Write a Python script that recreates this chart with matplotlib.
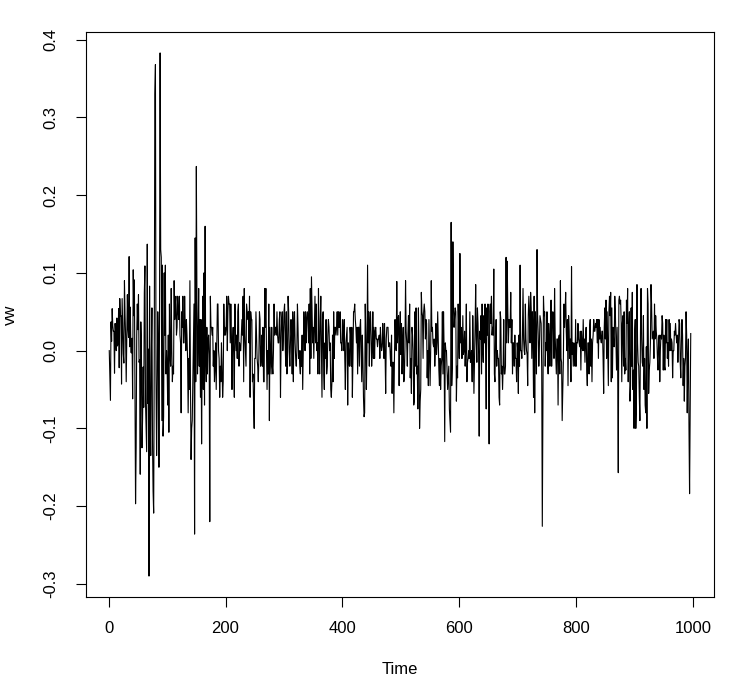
import matplotlib
matplotlib.use("Agg")
import matplotlib.pyplot as plt
import numpy as np

plt.rcParams['font.family'] = ['Liberation Sans', 'DejaVu Sans']
plt.rcParams['axes.unicode_minus'] = False

# Monthly values read (estimated) from the chart, one row per year
vw_1926_1929 = [
    0.000, -0.033, -0.064, 0.037, 0.012, 0.054, 0.032, 0.025, 0.025, -0.029, 0.035, 0.020,
    0.000, 0.042, 0.006, 0.010, 0.054, -0.022, 0.067, 0.044, 0.045, -0.043, 0.067, 0.028,
    -0.004, -0.016, 0.090, 0.045, 0.018, -0.040, 0.014, 0.072, 0.028, 0.017, 0.121, 0.005,
    0.056, -0.002, -0.003, 0.016, -0.062, 0.104, 0.045, 0.091, -0.047, -0.197, -0.125, 0.020,
]
vw_1930s = [
    0.060, 0.027, 0.072, -0.015, -0.012, -0.159, 0.037, 0.005, -0.125, -0.089, -0.021, -0.073,
    0.074, 0.109, -0.066, -0.100, -0.130, 0.137, -0.068, 0.002, -0.290, 0.083, -0.090, -0.135,
    -0.003, 0.055, -0.117, -0.181, -0.209, -0.005, 0.330, 0.368, -0.030, -0.135, -0.060, 0.050,
    0.010, -0.150, 0.040, 0.383, 0.130, 0.120, -0.090, 0.110, -0.110, -0.085, 0.100, 0.020,
    0.110, -0.030, 0.000, -0.020, -0.070, 0.020, -0.105, 0.060, -0.005, -0.020, 0.080, 0.000,
    -0.040, -0.020, -0.030, 0.090, 0.040, 0.060, 0.070, 0.020, 0.030, 0.070, 0.050, 0.040,
    0.070, 0.020, 0.010, -0.080, 0.050, 0.030, 0.070, 0.010, 0.010, 0.070, 0.030, 0.000,
    0.040, 0.020, -0.010, -0.080, -0.010, -0.050, 0.090, -0.050, -0.140, -0.100, -0.090, -0.040,
    0.010, 0.060, -0.236, 0.145, -0.040, 0.237, 0.070, -0.030, 0.010, 0.080, -0.020, 0.040,
    -0.060, 0.040, -0.120, -0.010, 0.070, -0.050, 0.100, -0.070, 0.160, -0.010, -0.040, 0.030,
]
vw_1940s = [
    -0.030, 0.010, 0.020, -0.005, -0.220, 0.070, 0.030, 0.030, 0.020, 0.030, -0.020, 0.000,
    -0.040, -0.020, 0.010, -0.050, 0.010, 0.060, 0.060, 0.000, -0.010, -0.060, -0.020, -0.040,
    0.010, -0.020, -0.060, -0.040, 0.060, 0.020, 0.030, 0.020, 0.030, 0.070, 0.000, 0.050,
    0.070, 0.060, 0.060, 0.010, 0.060, 0.020, -0.050, 0.010, 0.030, -0.010, -0.060, 0.060,
    0.020, 0.000, 0.020, -0.010, 0.050, 0.060, -0.020, 0.010, 0.000, 0.000, 0.020, 0.040,
    0.020, 0.070, -0.040, 0.080, 0.020, 0.000, -0.020, 0.060, 0.050, 0.040, 0.050, 0.010,
    0.070, -0.060, 0.050, 0.040, 0.040, -0.040, -0.030, -0.070, -0.100, -0.010, -0.010, 0.050,
    0.020, -0.010, -0.020, -0.040, -0.010, 0.050, 0.040, -0.020, -0.010, 0.020, -0.020, 0.030,
    -0.040, -0.040, 0.080, 0.030, 0.080, 0.000, -0.050, 0.000, -0.030, 0.060, -0.090, 0.030,
    0.000, -0.030, 0.030, -0.020, -0.030, 0.000, 0.060, 0.020, 0.030, 0.030, 0.020, 0.050,
]
vw_1950s = [
    0.020, 0.010, 0.010, 0.040, 0.050, -0.060, 0.010, 0.040, 0.050, 0.000, 0.020, 0.050,
    0.060, 0.010, -0.020, 0.050, -0.030, -0.020, 0.070, 0.050, 0.000, -0.020, 0.010, 0.040,
    0.020, -0.030, 0.050, -0.040, 0.030, 0.050, 0.010, -0.010, -0.020, 0.000, 0.060, 0.030,
    -0.010, 0.000, -0.020, -0.030, 0.000, -0.020, 0.020, -0.050, 0.000, 0.050, 0.030, 0.000,
    0.050, 0.010, 0.040, 0.050, 0.040, 0.010, 0.060, -0.030, 0.080, -0.010, 0.095, 0.050,
    0.010, 0.030, -0.010, 0.030, 0.070, 0.010, 0.060, 0.000, 0.010, -0.030, 0.080, 0.010,
    -0.030, 0.040, 0.070, 0.000, -0.060, 0.040, 0.050, -0.030, -0.050, 0.010, -0.010, 0.040,
    -0.030, -0.020, 0.020, 0.040, 0.030, 0.000, 0.010, -0.050, -0.060, -0.040, 0.020, -0.040,
    0.050, -0.010, 0.030, 0.030, 0.020, 0.030, 0.050, 0.020, 0.050, 0.030, 0.030, 0.050,
    0.010, 0.010, 0.000, 0.040, 0.020, 0.000, 0.040, -0.010, -0.050, 0.010, 0.020, 0.030,
]
vw_1960s = [
    -0.070, 0.010, -0.010, -0.020, 0.030, 0.020, -0.020, 0.030, -0.060, -0.010, 0.050, 0.050,
    0.060, 0.040, 0.030, 0.010, 0.030, -0.030, 0.030, 0.030, -0.020, 0.030, 0.040, 0.000,
    -0.040, 0.020, -0.010, -0.060, -0.085, -0.080, 0.060, 0.020, -0.050, 0.000, 0.110, 0.010,
    0.050, -0.020, 0.035, 0.050, 0.020, -0.020, 0.000, 0.050, -0.010, 0.030, -0.010, 0.025,
    0.030, 0.015, 0.015, 0.005, 0.015, 0.015, 0.020, -0.010, 0.030, 0.010, 0.000, 0.005,
    0.035, 0.010, -0.010, 0.035, -0.005, -0.055, 0.015, 0.030, 0.030, 0.030, 0.005, 0.010,
    0.010, -0.010, -0.020, 0.020, -0.055, -0.015, -0.015, -0.080, -0.010, 0.040, 0.010, 0.000,
    0.089, 0.010, 0.040, 0.045, -0.045, 0.025, 0.050, -0.005, 0.035, -0.030, 0.005, 0.030,
    -0.040, -0.035, 0.005, 0.090, 0.025, 0.010, -0.020, 0.020, 0.045, 0.010, 0.060, -0.035,
    -0.010, -0.055, 0.030, 0.020, 0.000, -0.070, -0.065, 0.050, -0.020, 0.055, -0.030, -0.020,
]
vw_1970s = [
    -0.075, 0.055, 0.000, -0.100, -0.065, -0.050, 0.075, 0.050, 0.045, -0.010, 0.050, 0.060,
    0.050, 0.015, 0.040, 0.035, -0.035, 0.000, -0.045, 0.040, -0.005, -0.045, 0.000, 0.090,
    0.025, 0.030, 0.010, 0.005, 0.015, -0.020, 0.000, 0.035, -0.005, 0.010, 0.050, 0.010,
    -0.025, -0.045, -0.010, -0.050, -0.020, -0.010, 0.050, -0.030, 0.050, 0.000, -0.117, 0.010,
    0.000, 0.000, -0.025, -0.050, -0.035, -0.020, -0.075, -0.090, -0.105, 0.165, -0.045, -0.020,
    0.140, 0.060, 0.030, 0.045, 0.055, 0.050, -0.065, -0.020, -0.035, 0.060, 0.030, -0.010,
    0.125, 0.010, 0.030, -0.010, -0.010, 0.045, -0.005, 0.000, 0.025, -0.020, 0.005, 0.060,
    -0.040, -0.015, -0.010, 0.000, -0.010, 0.050, -0.015, -0.010, 0.000, -0.040, 0.045, 0.005,
    -0.055, -0.015, 0.030, 0.085, 0.015, -0.015, 0.055, 0.035, -0.005, -0.110, 0.025, 0.015,
    0.045, -0.030, 0.060, 0.005, -0.015, 0.045, 0.010, 0.060, 0.000, -0.075, 0.055, 0.020,
]
vw_1980s = [
    0.060, 0.000, -0.120, 0.050, 0.060, 0.035, 0.070, 0.020, 0.030, 0.020, 0.105, -0.030,
    -0.040, 0.015, 0.040, -0.020, 0.000, -0.010, -0.010, -0.060, -0.070, 0.050, 0.040, -0.030,
    -0.020, -0.050, -0.020, 0.040, -0.030, -0.030, -0.020, 0.120, 0.010, 0.115, 0.050, 0.010,
    0.040, 0.030, 0.030, 0.075, 0.010, 0.040, -0.030, 0.010, 0.010, -0.020, 0.020, -0.010,
    -0.010, -0.040, 0.010, 0.000, -0.055, 0.020, -0.020, 0.110, 0.000, 0.000, -0.010, 0.020,
    0.080, 0.015, 0.000, -0.005, 0.060, 0.015, 0.000, -0.005, -0.045, 0.045, 0.070, 0.045,
    0.010, 0.075, 0.055, -0.010, 0.050, 0.015, -0.060, 0.070, -0.080, 0.050, 0.015, -0.030,
    0.130, 0.045, 0.020, -0.020, 0.005, 0.045, 0.040, 0.035, -0.023, -0.226, -0.075, 0.070,
    0.045, 0.050, -0.020, 0.010, 0.000, 0.050, -0.010, -0.030, 0.035, 0.020, -0.020, 0.015,
    0.065, -0.020, 0.020, 0.050, 0.040, -0.010, 0.080, 0.020, -0.005, -0.030, 0.015, 0.015,
]
vw_1990s = [
    -0.070, 0.015, 0.020, -0.030, 0.090, -0.010, -0.015, -0.090, -0.055, -0.015, 0.060, 0.030,
    0.050, 0.075, 0.025, 0.000, 0.040, -0.045, 0.045, 0.025, -0.010, 0.015, -0.040, 0.108,
    -0.005, 0.010, -0.020, 0.010, 0.005, -0.020, 0.040, -0.020, 0.010, 0.010, 0.035, 0.015,
    0.010, 0.005, 0.025, -0.025, 0.025, 0.005, 0.000, 0.040, 0.000, 0.015, -0.015, 0.015,
    0.030, -0.025, -0.045, 0.010, 0.010, -0.030, 0.030, 0.040, -0.020, 0.015, -0.040, 0.010,
    0.020, 0.040, 0.025, 0.025, 0.035, 0.030, 0.040, 0.010, 0.040, -0.010, 0.040, 0.015,
    0.030, 0.015, 0.010, 0.025, 0.025, -0.010, -0.055, 0.030, 0.055, 0.015, 0.065, -0.010,
    0.050, 0.000, -0.045, 0.050, 0.070, 0.045, 0.075, -0.040, 0.055, -0.035, 0.030, 0.015,
    0.005, 0.070, 0.050, 0.010, -0.025, 0.030, -0.025, -0.157, 0.065, 0.070, 0.060, 0.065,
    0.035, -0.040, 0.035, 0.045, -0.020, 0.050, -0.030, -0.010, -0.025, 0.065, 0.035, 0.080,
]
vw_2000s = [
    -0.040, 0.025, 0.050, -0.065, -0.045, 0.055, -0.020, 0.075, -0.050, -0.025, -0.100, 0.020,
    0.040, -0.100, -0.070, 0.085, 0.010, -0.015, -0.020, -0.060, -0.090, 0.025, 0.080, 0.015,
    -0.015, -0.020, 0.045, -0.050, -0.010, -0.070, -0.080, 0.005, -0.100, 0.080, 0.060, -0.055,
    -0.025, -0.015, 0.010, 0.085, 0.060, 0.015, 0.020, 0.025, -0.010, 0.060, 0.015, 0.045,
    0.025, 0.015, -0.010, -0.025, 0.015, 0.020, -0.040, 0.000, 0.020, 0.015, 0.045, 0.035,
    -0.025, 0.020, -0.020, -0.025, 0.040, 0.010, 0.040, -0.010, 0.010, -0.020, 0.040, 0.000,
    0.035, 0.000, 0.015, 0.010, -0.035, 0.000, 0.000, 0.025, 0.020, 0.035, 0.020, 0.010,
    0.020, -0.015, 0.010, 0.040, 0.035, -0.015, -0.035, 0.010, 0.040, 0.020, -0.045, -0.010,
    -0.065, -0.020, -0.010, 0.050, 0.020, -0.080, -0.010, 0.015, -0.100, -0.184, -0.080, 0.022,
]

x_ticks = [0, 200, 400, 600, 800, 1000]
y_ticks = [-0.3, -0.2, -0.1, 0.0, 0.1, 0.2, 0.3, 0.4]
x_label = "Time"
y_label = "vw"

vw = np.array(vw_1926_1929 + vw_1930s + vw_1940s + vw_1950s + vw_1960s
              + vw_1970s + vw_1980s + vw_1990s + vw_2000s)
time = np.arange(1, len(vw) + 1)

W, H = 740, 681
fig = plt.figure(figsize=(W / 100, H / 100), dpi=100)
L, R, T, B = 86, 714, 32, 597
ax = fig.add_axes([L / W, 1 - B / H, (R - L) / W, (B - T) / H])

ax.plot(time, vw, color='black', linewidth=0.8)

xr = time[-1] - time[0]
ax.set_xlim(time[0] - 0.04 * xr, time[-1] + 0.04 * xr)
yr = vw.max() - vw.min()
ax.set_ylim(vw.min() - 0.04 * yr, vw.max() + 0.04 * yr)

ax.set_xticks(x_ticks)
ax.set_xticklabels([str(t) for t in x_ticks])
ax.set_yticks(y_ticks)
ax.set_yticklabels(["%.1f" % t for t in y_ticks], rotation=90, va='center')

for s in ax.spines.values():
    s.set_linewidth(0.8)
    s.set_color('black')

ax.tick_params(axis='both', direction='out', length=7.2, width=0.8,
               labelsize=12, colors='black')
ax.tick_params(axis='x', pad=10)
ax.tick_params(axis='y', pad=13)

fig.text((L + R) / 2 / W, 1 - 670 / H, x_label, ha='center', va='center', fontsize=12)
fig.text(10 / W, 1 - (T + B) / 2 / H, y_label, ha='center', va='center',
         rotation=90, fontsize=12)

fig.savefig('out.png', dpi=100)
